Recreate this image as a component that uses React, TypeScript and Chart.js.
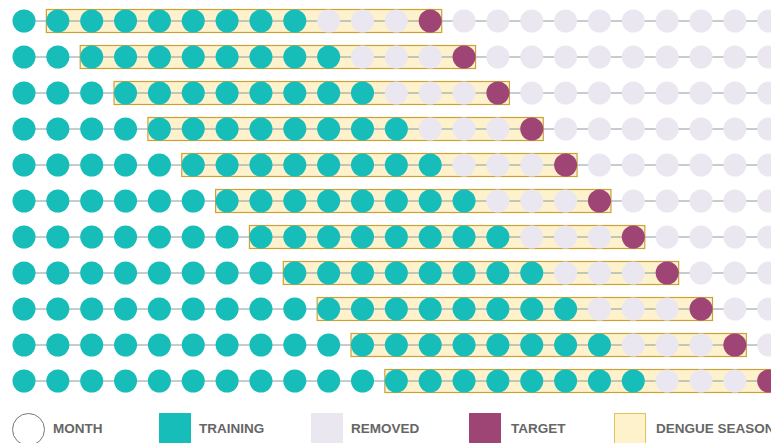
import React, { useEffect, useRef } from "react";
import { Chart, registerables } from "chart.js";

Chart.register(...registerables);

// Per-row data (one row per training window)
const rowLabels = ["W1", "W2", "W3", "W4", "W5", "W6", "W7", "W8", "W9", "W10", "W11"];
const trainingMonths = [9, 10, 11, 12, 13, 14, 15, 16, 17, 18, 19];
const removedMonths = [3, 3, 3, 3, 3, 3, 3, 3, 3, 3, 3];
const seasonStart = [1, 2, 3, 4, 5, 6, 7, 8, 9, 10, 11];
const seasonLength = [12, 12, 12, 12, 12, 12, 12, 12, 12, 12, 12];
const totalMonths = 24;

const legendItems = ["MONTH", "TRAINING", "REMOVED", "TARGET", "DENGUE SEASON"];

const COLORS = {
  training: "#17bdb9",
  removed: "#ebe7f1",
  target: "#9e4575",
  month: "#ebe7f1",
  line: "#8a9a9c",
  seasonFill: "#fef2cd",
  seasonBorder: "#c9a23a",
  text: "#666666",
};

const DOT_R = 11.5;

const seasonPlugin = {
  id: "seasonBoxes",
  beforeDatasetsDraw(chart: any) {
    const { ctx, scales } = chart;
    const xs = scales.x;
    const ys = scales.y;
    ctx.save();
    rowLabels.forEach((_, r) => {
      const x0 = xs.getPixelForValue(seasonStart[r]) - DOT_R;
      const x1 = xs.getPixelForValue(seasonStart[r] + seasonLength[r] - 1) + DOT_R;
      const yc = ys.getPixelForValue(r);
      ctx.fillStyle = COLORS.seasonFill;
      ctx.fillRect(x0, yc - DOT_R, x1 - x0, DOT_R * 2);
      ctx.strokeStyle = COLORS.seasonBorder;
      ctx.lineWidth = 1.2;
      ctx.strokeRect(x0, yc - DOT_R, x1 - x0, DOT_R * 2);
    });
    ctx.restore();
  },
};

export default function App() {
  const ref = useRef<HTMLCanvasElement>(null);

  useEffect(() => {
    if (!ref.current) return;
    const datasets = rowLabels.map((label, r) => {
      const pts: { x: number; y: number }[] = [];
      const colors: string[] = [];
      const target = trainingMonths[r] + removedMonths[r];
      for (let c = 0; c < totalMonths; c++) {
        pts.push({ x: c, y: r });
        if (c < trainingMonths[r]) colors.push(COLORS.training);
        else if (c < target) colors.push(COLORS.removed);
        else if (c === target) colors.push(COLORS.target);
        else colors.push(COLORS.month);
      }
      return {
        label,
        data: pts,
        showLine: true,
        borderColor: COLORS.line,
        borderWidth: 1,
        pointRadius: DOT_R,
        pointHoverRadius: DOT_R,
        pointBorderWidth: 0,
        pointBackgroundColor: colors,
        clip: false as any,
      };
    });

    const chart = new Chart(ref.current, {
      type: "scatter",
      data: { datasets },
      options: {
        animation: false,
        responsive: false,
        devicePixelRatio: 1,
        layout: { padding: 0, autoPadding: false },
        plugins: { legend: { display: false }, tooltip: { enabled: false } },
        scales: {
          x: { type: "linear", display: false, min: -24 / 33.85, max: -24 / 33.85 + 771 / 33.85 },
          y: { type: "linear", display: false, reverse: true, min: -21 / 36, max: -21 / 36 + 400 / 36 },
        },
      },
      plugins: [seasonPlugin],
    });
    return () => chart.destroy();
  }, []);

  const textStyle: React.CSSProperties = {
    position: "absolute",
    top: 420,
    fontFamily: "'Liberation Sans', Arial, sans-serif",
    fontWeight: "bold",
    fontSize: 13.5,
    lineHeight: "18px",
    color: COLORS.text,
    whiteSpace: "nowrap",
  };
  const sq = (left: number, bg: string, border?: string): React.CSSProperties => ({
    position: "absolute",
    left,
    top: 413,
    width: 32,
    height: 32,
    boxSizing: "border-box",
    background: bg,
    border: border ? `1px solid ${border}` : "none",
  });

  return (
    <div
      style={{
        position: "fixed",
        left: 0,
        top: 0,
        width: 771,
        height: 443,
        overflow: "hidden",
        background: "#fff",
      }}
    >
      <canvas ref={ref} width={771} height={400} style={{ position: "absolute", left: 0, top: 0 }} />
      <div
        style={{
          position: "absolute",
          left: 12,
          top: 413,
          width: 33,
          height: 33,
          boxSizing: "border-box",
          border: "1px solid #777777",
          borderRadius: "50%",
        }}
      />
      <div style={{ ...textStyle, left: 53 }}>{legendItems[0]}</div>
      <div style={sq(159, COLORS.training)} />
      <div style={{ ...textStyle, left: 199 }}>{legendItems[1]}</div>
      <div style={sq(311, COLORS.removed)} />
      <div style={{ ...textStyle, left: 351 }}>{legendItems[2]}</div>
      <div style={sq(469, COLORS.target)} />
      <div style={{ ...textStyle, left: 511 }}>{legendItems[3]}</div>
      <div style={sq(614, COLORS.seasonFill, "#e0c25a")} />
      <div style={{ ...textStyle, left: 656 }}>{legendItems[4]}</div>
    </div>
  );
}
